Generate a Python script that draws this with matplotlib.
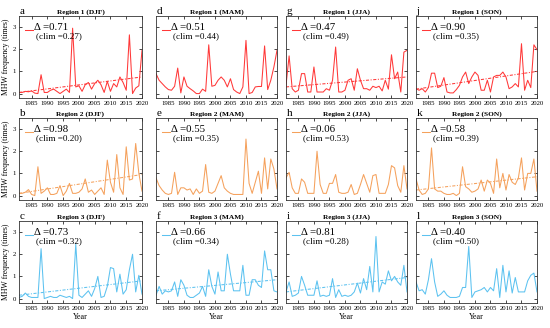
import numpy as np
import matplotlib
matplotlib.use("Agg")
import matplotlib.pyplot as plt

plt.rcParams['font.family'] = ['Liberation Serif', 'DejaVu Serif']

years = np.arange(1981, 2021)

# Region 1
r1_djf = [0.05,0.05,0.1,0.08,0.12,0.02,0.0,0.85,0.05,0.05,0.15,0.2,0.1,0.0,0.1,0.2,0.05,2.95,0.3,0.35,0.1,0.4,0.5,0.2,0.45,0.6,0.4,0.05,0.55,0.1,0.45,0.3,0.75,0.5,0.15,2.65,0.0,0.25,0.35,1.95]
r1_mam = [0.9,0.6,0.45,0.3,0.18,0.15,0.33,1.15,0.03,0.75,0.33,0.22,0.12,0.0,0.0,0.2,0.1,2.2,0.33,0.37,0.6,0.75,0.6,0.3,0.67,0.18,0.07,0.0,0.3,2.4,0.0,0.05,0.3,0.32,0.32,2.15,0.18,0.6,1.2,1.95]
r1_jja = [0.37,1.7,0.22,0.07,0.15,0.9,0.9,0.07,0.07,1.2,0.07,0.07,0.07,0.22,0.15,0.6,2.1,0.07,0.07,0.15,0.6,0.67,0.15,1.12,0.6,0.22,0.22,0.15,0.33,0.27,0.33,0.12,0.6,0.2,1.75,0.67,0.97,0.07,1.87,1.95]
r1_son = [0.22,0.15,0.22,0.07,0.27,0.92,0.92,0.27,0.33,0.72,0.07,0.03,0.03,0.18,0.37,0.75,0.97,0.45,0.75,0.97,0.82,0.15,0.15,0.6,0.07,0.75,0.82,0.82,0.97,0.75,0.22,0.3,0.45,0.3,2.25,0.15,0.6,0.27,2.2,1.98]
# Region 2
r2_djf = [0.1,0.1,0.15,0.27,0.05,0.0,1.3,0.1,0.2,0.35,0.05,0.05,0.1,0.45,0.0,0.2,0.55,0.1,0.1,0.15,0.3,0.75,0.15,0.25,0.05,0.2,0.35,0.05,1.6,0.6,0.15,1.85,0.35,0.05,2.2,0.7,0.75,2.35,1.0,0.2]
r2_mam = [0.8,0.45,0.25,0.1,0.05,0.1,1.05,0.05,0.35,0.35,0.25,0.3,0.05,0.3,0.1,0.2,1.4,0.15,0.1,0.2,0.55,0.9,0.35,0.2,0.1,0.05,0.05,0.05,0.05,2.55,0.55,0.1,0.6,1.1,0.1,1.7,0.3,1.65,1.2,0.3]
r2_jja = [0.8,1.05,0.35,0.1,0.1,0.75,0.6,0.1,0.1,0.1,2.0,0.5,0.1,0.1,0.55,0.55,0.95,0.15,0.1,0.1,0.15,0.5,0.05,0.1,0.5,0.95,0.55,0.15,0.9,0.95,0.1,0.1,0.1,0.5,1.35,1.25,0.45,0.15,1.35,0.3]
r2_son = [0.75,0.25,0.05,0.1,0.3,2.15,0.3,0.2,0.2,0.1,0.05,0.05,0.1,0.0,0.1,1.3,0.4,0.3,0.15,0.2,0.3,0.7,0.2,0.7,0.55,0.1,1.65,0.35,1.0,0.25,0.95,0.6,0.5,0.8,1.7,0.25,1.0,1.0,1.65,0.2]
# Region 3
r3_djf = [0.05,0.1,0.25,0.1,0.05,0.05,0.05,2.25,0.0,0.05,0.1,0.05,0.05,0.15,0.1,0.05,0.1,0.0,2.45,0.15,0.05,0.2,0.35,0.1,0.45,1.0,0.05,0.1,0.55,1.4,1.35,0.3,1.1,0.2,0.4,1.3,2.0,0.3,1.05,0.2]
r3_mam = [0.15,0.55,0.2,0.35,0.3,0.35,0.75,0.1,0.85,0.6,0.15,0.05,0.05,0.15,0.25,0.55,0.1,1.3,0.55,0.2,1.2,0.35,0.35,2.0,1.1,0.35,0.35,0.35,1.5,0.15,0.15,0.85,0.85,0.6,0.5,2.15,1.3,1.3,0.35,0.3]
r3_jja = [0.3,0.75,0.1,0.15,0.25,1.0,0.6,0.15,0.15,0.15,0.8,0.1,0.15,0.1,0.15,0.9,0.05,0.4,0.1,0.15,0.1,0.15,0.3,0.7,0.25,0.9,0.4,1.45,0.3,2.8,0.3,0.75,0.65,1.25,0.8,1.0,0.75,0.6,1.5,0.3]
r3_son = [0.75,0.35,0.4,0.2,0.85,1.8,0.75,0.1,0.2,0.35,0.15,0.05,0.05,0.05,0.1,0.5,0.5,2.35,0.05,0.3,0.35,0.4,0.5,0.3,0.5,0.35,1.35,0.05,1.5,0.3,1.25,0.25,0.95,0.3,0.3,0.3,0.8,1.05,1.15,0.3]

series = [[r1_djf, r1_mam, r1_jja, r1_son],
          [r2_djf, r2_mam, r2_jja, r2_son],
          [r3_djf, r3_mam, r3_jja, r3_son]]

deltas = [["0.71", "0.51", "0.47", "0.90"],
          ["0.98", "0.55", "0.06", "0.58"],
          ["0.73", "0.66", "0.81", "0.40"]]
clims = [["0.27", "0.44", "0.49", "0.35"],
         ["0.20", "0.35", "0.53", "0.39"],
         ["0.32", "0.34", "0.28", "0.50"]]
# trend line start/end values (None = no trend drawn)
trend_start = [[0.05, None, 0.3, 0.2],
               [0.1, None, None, 0.25],
               [0.15, 0.35, 0.3, None]]
trend_end = [[0.75, None, 0.75, 1.0],
             [0.95, None, None, 0.85],
             [0.8, 0.85, 0.95, None]]

letters = [["a", "d", "g", "j"],
           ["b", "e", "h", "k"],
           ["c", "f", "i", "l"]]
seasons = ["DJF", "MAM", "JJA", "SON"]
regions = ["Region 1", "Region 2", "Region 3"]
colors = ["#FF3838", "#F5A15C", "#5CC2F0"]

W, H = 550, 328
fig = plt.figure(figsize=(5.5, 3.28), dpi=100)

col_left = [19, 156, 286, 416]
col_w = [123, 121, 121, 121]
row_top = [16, 118, 221]
row_bot = [98, 200, 303]

for r in range(3):
    for c in range(4):
        l = col_left[c] / W
        b = 1 - row_bot[r] / H
        w = col_w[c] / W
        h = (row_bot[r] - row_top[r]) / H
        ax = fig.add_axes([l, b, w, h])
        col = colors[r]
        ax.plot(years, series[r][c], color=col, lw=0.75)
        if trend_start[r][c] is not None:
            ax.plot([years[0], years[-1]], [trend_start[r][c], trend_end[r][c]],
                    color=col, lw=0.75, ls=(0, (3, 1.5, 1, 1.5)))
        ax.set_xlim(1981, 2020)
        ax.set_ylim(-0.2, 3.5)
        ax.set_xticks(np.arange(1985, 2021, 5))
        ax.set_yticks([0, 1, 2, 3])
        ax.tick_params(direction='in', length=2, width=0.5, labelsize=4.9,
                       top=True, right=True, pad=2)
        for s in ax.spines.values():
            s.set_linewidth(0.6)
            s.set_color('#333333')
        if c != 0:
            ax.set_yticklabels([])
        else:
            ax.set_ylabel("MHW frequency (times)", fontsize=5.6, labelpad=2)
        if r == 2:
            ax.set_xlabel("Year", fontsize=5.8, labelpad=1.5)
        ax.set_title(f"{regions[r]} ({seasons[c]})", fontsize=5.3, fontweight='bold', pad=1.5)
        ax.text(0.005, 1.025, letters[r][c], transform=ax.transAxes, fontsize=8,
                ha='left', va='baseline')
        ax.plot([0.05, 0.115], [0.835, 0.835], transform=ax.transAxes, color=col, lw=0.75)
        ax.text(0.125, 0.855, "Δ =" + deltas[r][c], transform=ax.transAxes,
                fontsize=7.8, va='center', ha='left')
        ax.text(0.14, 0.755, "(clim =" + clims[r][c] + ")", transform=ax.transAxes,
                fontsize=6.6, va='center', ha='left')

fig.savefig("out.png", dpi=100)
